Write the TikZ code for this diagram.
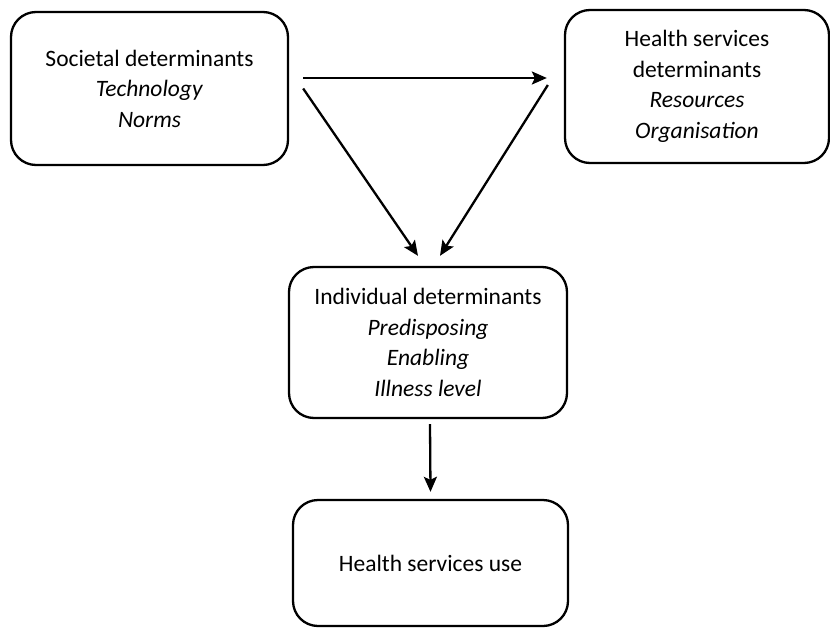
\documentclass[tikz,border=0pt]{standalone}
\usepackage{fontspec}
\setmainfont{Carlito}
\usetikzlibrary{arrows.meta}
\tikzset{
  detbox/.style={draw, line width=2.3pt, rounded corners=25pt, align=center,
    inner sep=0pt, font=\fontsize{23.5}{30.5}\selectfont},
  flow/.style={line width=2.3pt, -{Stealth[length=15pt, width=13pt, inset=3pt]}}
}
\begin{document}
\begin{tikzpicture}[x=1pt, y=-1pt]
    \useasboundingbox (0, 0) rectangle (830, 629);
    \node (soc) at (149.5, 88.5) [detbox, minimum width=277pt, minimum height=153pt]
        {Societal determinants\\ \textit{Technology}\\ \textit{Norms}};
    \node (hsd) at (697, 86.5) [detbox, minimum width=264pt, minimum height=153pt]
        {Health services\\ determinants\\ \textit{Resources}\\ \textit{Organisation}};
    \node (ind) at (428, 342.5) [detbox, minimum width=278pt, minimum height=151pt]
        {Individual determinants\\ \textit{Predisposing}\\ \textit{Enabling}\\ \textit{Illness level}};
    \node (use) at (430.5, 563) [detbox, minimum width=275pt, minimum height=126pt]
        {Health services use};
    \draw [flow] ([shift={(14pt, 10.5pt)}]soc.east) -- ([shift={(-17pt, 8.5pt)}]hsd.west);
    \draw [flow] ([xshift=14pt]soc.east) -- ([shift={(-10pt, 10pt)}]ind.north);
    \draw [flow] ([shift={(-16pt, 1.5pt)}]hsd.west) -- ([shift={(12pt, 10pt)}]ind.north);
    \draw [flow] ([shift={(2pt, -5pt)}]ind.south) -- ([yshift=7pt]use.north);
    %y axis points down, so shifts are in screen direction
\end{tikzpicture}
\end{document}
